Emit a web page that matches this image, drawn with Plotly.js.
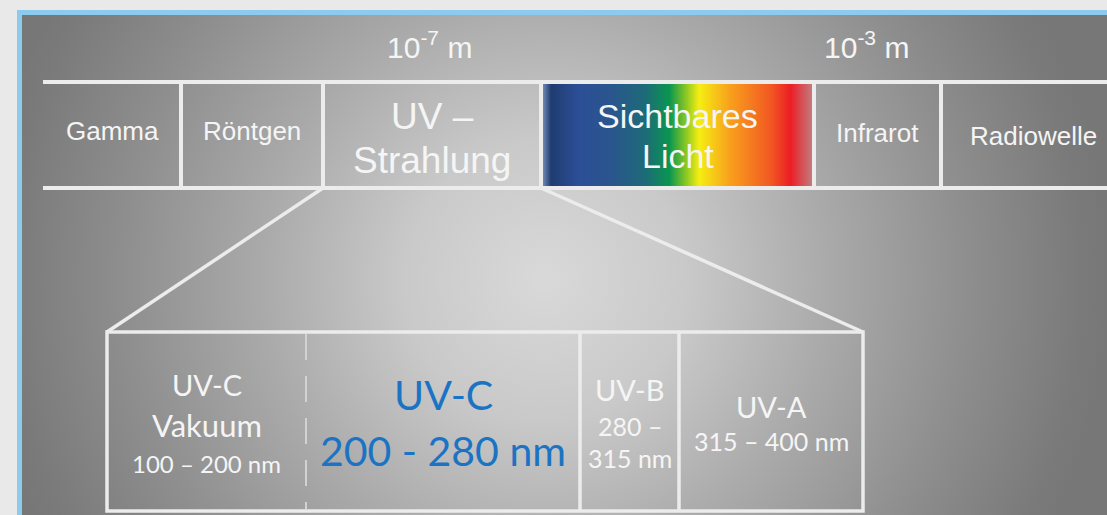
<!DOCTYPE html>
<html><head><meta charset="utf-8">
<script src="https://cdn.plot.ly/plotly-3.0.1.min.js"></script>
<style>html,body{margin:0;padding:0;background:#e9e9e9;overflow:hidden}#chart{width:1107px;height:515px}</style>
</head><body><div id="chart"></div>
<script>
// ---------------- data ----------------
const spectrumNames  = ['Gamma', 'Röntgen', 'UV –', 'Sichtbares', 'Infrarot', 'Radiowelle'];
const spectrumNames2 = ['', '', 'Strahlung', 'Licht', '', ''];
const wavelengthTicks = ['10<sup>-7</sup> m', '10<sup>-3</sup> m'];
const uvNames    = ['UV-C', 'UV-C', 'UV-B', 'UV-A'];
const uvSubNames = ['Vakuum', '', '', ''];
const uvRanges   = [['100 – 200 nm'], ['200 - 280 nm'], ['280 –', '315 nm'], ['315 – 400 nm']];
const uvStartNm  = [100, 200, 280, 315];
const uvEndNm    = [200, 280, 315, 400];

// ---------------- layout geometry (pixel space of the diagram) ----------------
const W = 1107, H = 515;
const bandEdges = [43, 181, 323, 541, 814, 941, 1125];
const bandTop = 82, bandBottom = 188;
const tickX = [429, 866], tickY = 45;
const uvEdges = [107, 306, 580, 679, 863];
const uvTop = 332, uvBottom = 511;
const visibleIndex = 3, uvIndex = 2;

// ---------------- styles ----------------
const lineColor = '#ececec';
const textColor = '#f5f5f5';
const blueText = '#1b74c3';
const sansTop = 'Liberation Sans, Arial, sans-serif';
const sansBottom = 'Lato, Open Sans, sans-serif';
const bandFontSize = [26, 26, 37, 34, 26, 26];
const bandY1 = [131, 131, 116, 116, 133, 136];
const bandY2 = [0, 0, 160, 156, 0, 0];
const uvNameStyle = [{y: 384, size: 29, color: textColor}, {y: 394, size: 41, color: blueText},
                     {y: 389, size: 29, color: textColor}, {y: 406, size: 29, color: textColor}];
const uvSubY = [425, 0, 0, 0];
const uvRangeStyle = [{y: [463], size: 24, color: textColor}, {y: [450], size: 41, color: blueText},
                      {y: [426, 458], size: 25, color: textColor}, {y: [441], size: 25, color: textColor}];
const visibleScale = [[0, '#7088b6'], [0.03, '#1f3c70'], [0.13, '#2c4e96'], [0.25, '#2a558e'],
  [0.38, '#1d6b78'], [0.47, '#0a9650'], [0.53, '#86c624'], [0.58, '#f5ee12'], [0.69, '#f8a31c'],
  [0.85, '#f25623'], [0.92, '#ec1d25'], [1, '#c27b7e']];
const bgScale = [[0, '#d9d9d9'], [0.25, '#c9c9c9'], [0.5, '#aaaaaa'], [0.75, '#8e8e8e'], [0.95, '#7a7a7a'], [1, '#777777']];
const bgCx = 545, bgCy = 280, bgR = 565;

// ---------------- traces ----------------
const traces = [
  { // radial gradient background panel
    x: [bgCx - bgR, bgCx + bgR, bgCx + bgR, bgCx - bgR, bgCx - bgR],
    y: [bgCy - bgR, bgCy - bgR, bgCy + bgR, bgCy + bgR, bgCy - bgR],
    mode: 'lines', line: {width: 0}, fill: 'toself',
    fillgradient: {type: 'radial', colorscale: bgScale},
    hoverinfo: 'skip', showlegend: false
  },
  { // visible spectrum
    x: [bandEdges[visibleIndex] + 2, bandEdges[visibleIndex + 1] - 2, bandEdges[visibleIndex + 1] - 2, bandEdges[visibleIndex] + 2, bandEdges[visibleIndex] + 2],
    y: [bandTop + 2, bandTop + 2, bandBottom - 2, bandBottom - 2, bandTop + 2],
    mode: 'lines', line: {width: 0}, fill: 'toself',
    fillgradient: {type: 'horizontal', colorscale: visibleScale,
                   start: bandEdges[visibleIndex] + 2, stop: bandEdges[visibleIndex + 1] - 2},
    hoverinfo: 'skip', showlegend: false
  }
];

// ---------------- shapes ----------------
const shapes = [];
const ln = (x0, y0, x1, y1, w, c, dash) => shapes.push({type: 'line', xref: 'x', yref: 'y', x0, y0, x1, y1,
  line: {color: c || lineColor, width: w, dash: dash || 'solid'}});
// outer margin + blue frame
shapes.push({type: 'rect', xref: 'x', yref: 'y', x0: -10, x1: 17, y0: -10, y1: H + 10, fillcolor: '#e9e9e9', line: {width: 0}});
shapes.push({type: 'rect', xref: 'x', yref: 'y', x0: -10, x1: W + 10, y0: -10, y1: 10.5, fillcolor: '#e9e9e9', line: {width: 0}});
ln(19.5, 12.5, 19.5, H + 10, 5, '#8dcbee');
ln(17, 12.5, W + 10, 12.5, 5, '#8dcbee');
// spectrum band
ln(bandEdges[0], bandTop, W + 10, bandTop, 4);
ln(bandEdges[0], bandBottom, W + 10, bandBottom, 4);
for (let i = 1; i < bandEdges.length - 1; i++) ln(bandEdges[i], bandTop, bandEdges[i], bandBottom, 4);
// zoom lines from UV band to detail box
ln(bandEdges[uvIndex], bandBottom, uvEdges[0], uvTop, 3.5);
ln(bandEdges[uvIndex + 1], bandBottom, uvEdges[uvEdges.length - 1], uvTop, 3.5);
// UV detail box
shapes.push({type: 'rect', xref: 'x', yref: 'y', x0: uvEdges[0], x1: uvEdges[uvEdges.length - 1], y0: uvTop, y1: uvBottom,
  line: {color: lineColor, width: 3.5}, fillcolor: 'rgba(0,0,0,0)'});
ln(uvEdges[1], uvTop + 2, uvEdges[1], uvBottom - 2, 2, '#d2d2d2', '26px,16px');
for (let i = 2; i < uvEdges.length - 1; i++) ln(uvEdges[i], uvTop, uvEdges[i], uvBottom, 3.5);

// ---------------- annotations ----------------
const annotations = [];
const txt = (x, y, text, size, color, family) => annotations.push({xref: 'x', yref: 'y', x, y, text,
  showarrow: false, xanchor: 'center', yanchor: 'middle', font: {size, color, family}});
wavelengthTicks.forEach((t, i) => txt(tickX[i], tickY, t, 30, textColor, sansTop));
spectrumNames.forEach((n, i) => {
  const cx = (bandEdges[i] + bandEdges[i + 1]) / 2;
  txt(cx, bandY1[i], n, bandFontSize[i], textColor, sansTop);
  if (spectrumNames2[i]) txt(cx, bandY2[i], spectrumNames2[i], bandFontSize[i], textColor, sansTop);
});
uvNames.forEach((n, i) => {
  const cx = (uvEdges[i] + uvEdges[i + 1]) / 2;
  const s = uvNameStyle[i];
  txt(cx, s.y, n, s.size, s.color, sansBottom);
  if (uvSubNames[i]) txt(cx, uvSubY[i], uvSubNames[i], 31, textColor, sansBottom);
  const r = uvRangeStyle[i];
  uvRanges[i].forEach((line, k) => txt(cx, r.y[k], line, r.size, r.color, sansBottom));
});

const layout = {
  width: W, height: H, margin: {l: 0, r: 0, t: 0, b: 0, pad: 0},
  paper_bgcolor: '#e9e9e9', plot_bgcolor: '#e9e9e9',
  xaxis: {range: [0, W], visible: false, fixedrange: true},
  yaxis: {range: [H, 0], visible: false, fixedrange: true},
  shapes, annotations, showlegend: false, hovermode: false
};
Plotly.newPlot('chart', traces, layout, {staticPlot: true, displayModeBar: false});
</script></body></html>
